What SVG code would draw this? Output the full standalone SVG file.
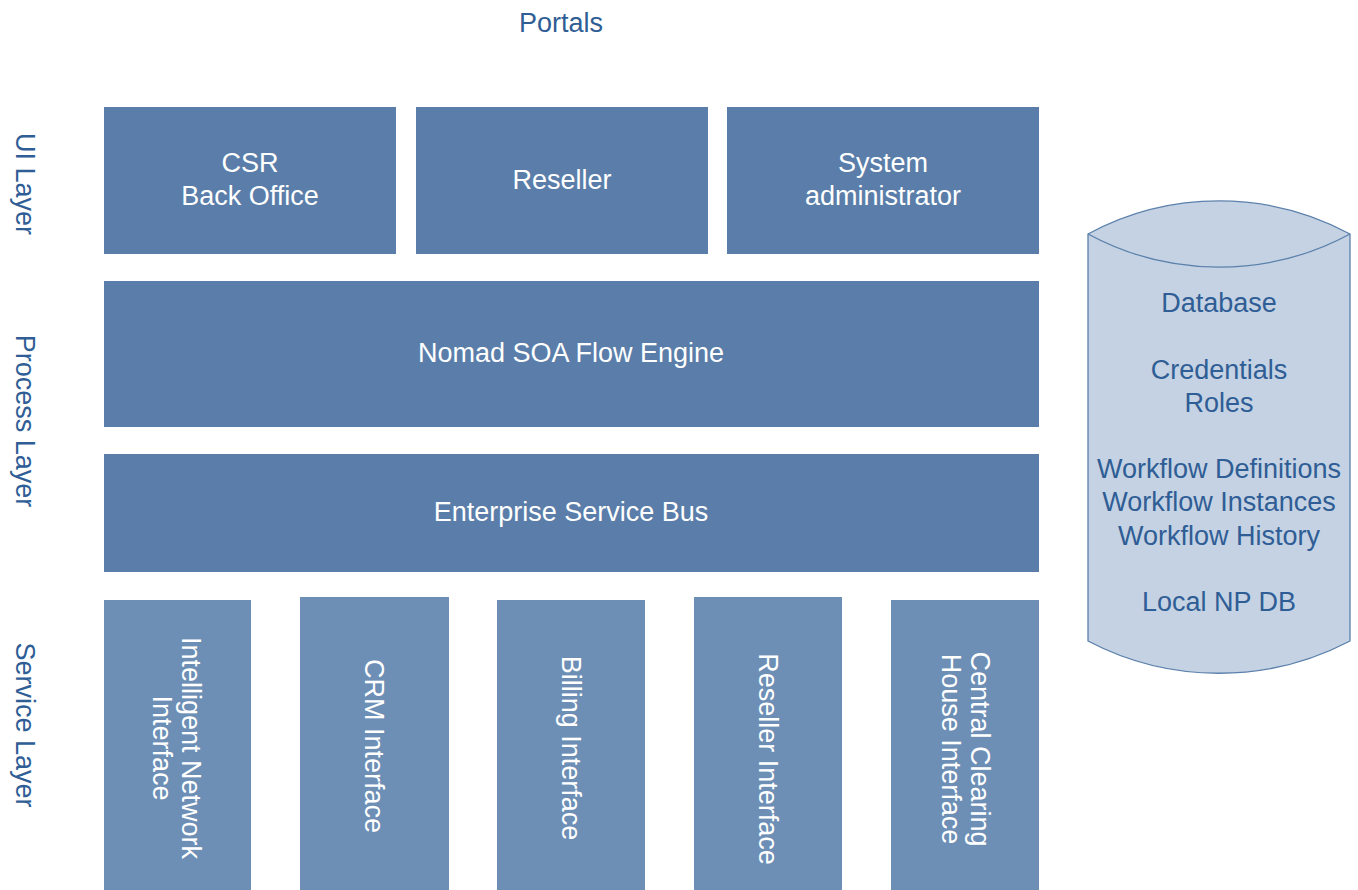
<svg xmlns="http://www.w3.org/2000/svg" width="1358" height="890" viewBox="0 0 1358 890">
<style>
.box{fill:#5a7ea9;}
.svc{fill:#6d8fb6;}
.wt{font-family:"Liberation Sans",Arial,sans-serif;font-size:27px;fill:#ffffff;text-anchor:middle;}
.bt{font-family:"Liberation Sans",Arial,sans-serif;font-size:27px;fill:#2f5d95;text-anchor:middle;}
.dbl{fill:none;stroke:#5b80ab;stroke-width:1.3;}
</style>
<rect width="1358" height="890" fill="#ffffff"/>
<text class="bt" x="561" y="32">Portals</text>
<g id="labels">
<text class="bt" transform="translate(16,184) rotate(90)">UI Layer</text>
<text class="bt" transform="translate(16,421) rotate(90)">Process Layer</text>
<text class="bt" transform="translate(16,725) rotate(90)">Service Layer</text>
</g>
<g id="csr"><rect class="box" x="104" y="107" width="292" height="147"/><text class="wt" x="250" y="172">CSR</text><text class="wt" x="250" y="205">Back Office</text></g>
<g id="reseller"><rect class="box" x="416" y="107" width="292" height="147"/><text class="wt" x="562" y="189">Reseller</text></g>
<g id="sysadmin"><rect class="box" x="727" y="107" width="312" height="147"/><text class="wt" x="883" y="172">System</text><text class="wt" x="883" y="205">administrator</text></g>
<g id="flow"><rect class="box" x="104" y="281" width="935" height="146"/><text class="wt" x="571" y="362">Nomad SOA Flow Engine</text></g>
<g id="esb"><rect class="box" x="104" y="454" width="935" height="118"/><text class="wt" x="571" y="521">Enterprise Service Bus</text></g>
<g id="ini"><rect class="svc" x="104" y="600" width="147" height="290"/><g transform="translate(176,748) rotate(90)"><text class="wt" y="-6">Intelligent Network</text><text class="wt" y="23">Interface</text></g></g>
<g id="crm"><rect class="svc" x="300" y="597" width="149" height="293"/><g transform="translate(374,746) rotate(90)"><text class="wt" y="9">CRM Interface</text></g></g>
<g id="billing"><rect class="svc" x="497" y="600" width="148" height="290"/><g transform="translate(571,748) rotate(90)"><text class="wt" y="9">Billing Interface</text></g></g>
<g id="resellerif"><rect class="svc" x="694" y="597" width="148" height="293"/><g transform="translate(768,759) rotate(90)"><text class="wt" y="9">Reseller Interface</text></g></g>
<g id="cch"><rect class="svc" x="891" y="600" width="148" height="290"/><g transform="translate(965,749) rotate(90)"><text class="wt" y="-6">Central Clearing</text><text class="wt" y="23">House Interface</text></g></g>
<g id="db">
<path d="M1088,234 A276,276 0 0 1 1350,234 L1350,641 A282,282 0 0 1 1088,641 Z" class="dbl" style="fill:#c4d2e3"/>
<path class="dbl" d="M1088,234 A276,276 0 0 0 1350,234"/>
<text class="bt" x="1219" y="312">Database</text>
<text class="bt" x="1219" y="379">Credentials</text>
<text class="bt" x="1219" y="412">Roles</text>
<text class="bt" x="1219" y="478">Workflow Definitions</text>
<text class="bt" x="1219" y="511">Workflow Instances</text>
<text class="bt" x="1219" y="545">Workflow History</text>
<text class="bt" x="1219" y="611">Local NP DB</text>
</g>
<g id="connectors"></g>
</svg>
